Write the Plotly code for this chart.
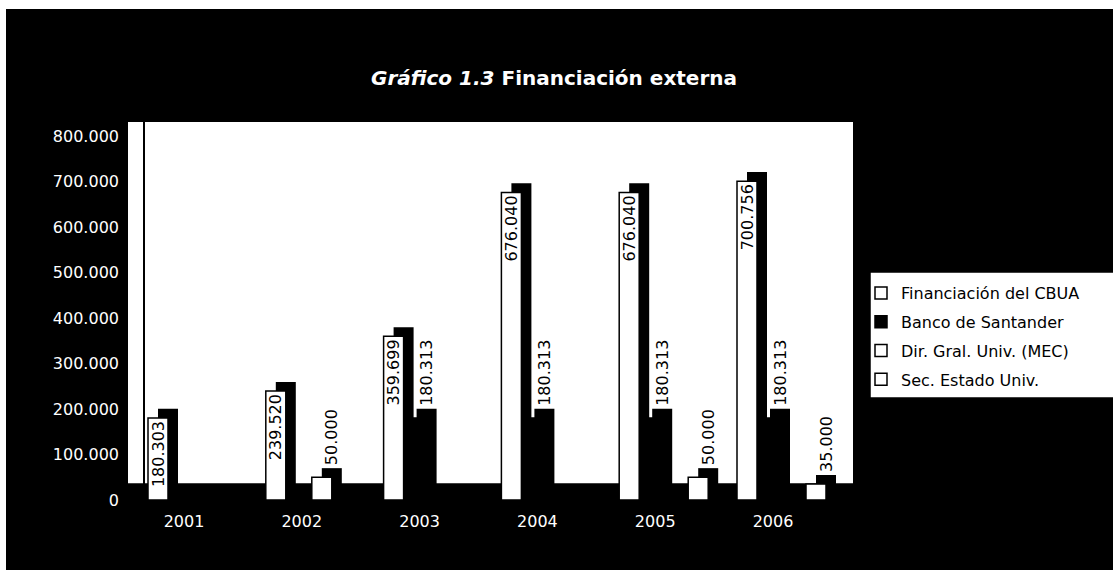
import plotly.graph_objects as go

years = ["2001", "2002", "2003", "2004", "2005", "2006"]
series_names = ["Financiación del CBUA", "Banco de Santander",
                "Dir. Gral. Univ. (MEC)", "Sec. Estado Univ."]
cbua = [180303, 239520, 359699, 676040, 676040, 700756]
santander = [None, None, 180313, 180313, 180313, 180313]
dir_gral = [None, 50000, None, None, None, None]
sec_estado = [None, None, None, None, 50000, 35000]
y_ticks = [0, 100000, 200000, 300000, 400000, 500000, 600000, 700000, 800000]

values = [cbua, santander, dir_gral, sec_estado]
front_colors = ["white", "black", "white", "white"]

# geometry (pixels -> category units)
W, H = 1113, 570
PL, PR, PT, PB = 128, 853, 122, 508
U = 117.8                      # px per category
X0 = -(184 - PL) / U           # x range start
X1 = X0 + (PR - PL) / U
Y_PER_PX = 800000 / 364.0
Y0 = -(PB - 500) * Y_PER_PX
Y1 = (500 - PT) * Y_PER_PX
DEPTH_Y = 20000                # 3D top offset in value units
DEPTH_X = 10 / U
FRONT_W = 20 / U


def fmt(v):
    return f"{v:,}".replace(",", ".")


fig = go.Figure()
font_lbl = dict(family="DejaVu Sans", size=16, color="black")

for k, (name, vals, col) in enumerate(zip(series_names, values, front_colors)):
    off = (-36 + 23 * k) / U
    txt = [fmt(v) if v is not None else "" for v in vals]
    # 3D side / top (shadow)
    fig.add_trace(go.Bar(
        x=years, y=vals, base=[DEPTH_Y] * len(years),
        offset=off + DEPTH_X, width=FRONT_W,
        marker=dict(color="black", line=dict(width=0)),
        text=(txt if k > 0 else None),
        textposition="outside", textangle=-90, textfont=font_lbl,
        constraintext="none", cliponaxis=False,
        showlegend=False, hoverinfo="skip",
    ))
    # front face
    fig.add_trace(go.Bar(
        x=years, y=vals, name=name, legendgroup=name,
        offset=off, width=FRONT_W,
        marker=dict(color=col, line=dict(color="black", width=1.5)),
        text=(txt if k == 0 else None),
        textposition="inside", insidetextanchor="end", textangle=-90,
        textfont=font_lbl, constraintext="none",
    ))


def px_x(p):
    return (p - PL) / (PR - PL)


def px_y(p):
    return (PB - p) / (PB - PT)


shapes = [
    # black floor
    dict(type="rect", xref="paper", yref="y", x0=0, x1=1, y0=Y0, y1=37000,
         fillcolor="black", line=dict(width=0), layer="below"),
    # left wall edge
    dict(type="line", xref="paper", yref="y", x0=px_x(144), x1=px_x(144),
         y0=0, y1=Y1, line=dict(color="black", width=2), layer="below"),
    # legend box
    dict(type="rect", xref="paper", yref="paper",
         x0=px_x(870), x1=px_x(1125), y0=px_y(398), y1=px_y(272),
         fillcolor="white", line=dict(color="black", width=1.5), layer="above"),
    # scan borders
    dict(type="rect", xref="paper", yref="paper",
         x0=px_x(-5), x1=px_x(W + 5), y0=px_y(9), y1=px_y(-5),
         fillcolor="white", line=dict(width=0)),
    dict(type="rect", xref="paper", yref="paper",
         x0=px_x(-5), x1=px_x(6), y0=px_y(H + 5), y1=px_y(-5),
         fillcolor="white", line=dict(width=0)),
]

fig.update_layout(
    width=W, height=H,
    paper_bgcolor="black", plot_bgcolor="white",
    barmode="overlay",
    separators=",.",
    margin=dict(l=PL, r=W - PR, t=PT, b=H - PB, autoexpand=False),
    title=dict(
        text="<i>Gráfico 1.3</i> Financiación externa",
        x=554 / W, xanchor="center", xref="container",
        y=1 - 78 / H, yanchor="middle",
        font=dict(family="DejaVu Sans", size=20, color="white", weight="bold"),
    ),
    xaxis=dict(range=[X0, X1], showgrid=False, zeroline=False, showline=False,
               ticks="", tickfont=dict(family="DejaVu Sans", size=16, color="white"),
               ticklabelstandoff=2, fixedrange=True),
    yaxis=dict(range=[Y0, Y1], tickvals=y_ticks, tickformat=",.0f",
               showgrid=False, zeroline=False, showline=False, ticks="",
               tickfont=dict(family="DejaVu Sans", size=16, color="white"),
               ticklabelstandoff=8, fixedrange=True),
    legend=dict(x=px_x(861), xanchor="left", y=px_y(276), yanchor="top",
                bgcolor="rgba(0,0,0,0)", borderwidth=0,
                font=dict(family="DejaVu Sans", size=16, color="black"),
                tracegroupgap=5, itemwidth=30),
    shapes=shapes,
    showlegend=True,
)

fig.write_html("out.html",
               config={"displayModeBar": False},
               post_script="document.body.style.margin='0';"
                           "document.body.style.padding='0';")
